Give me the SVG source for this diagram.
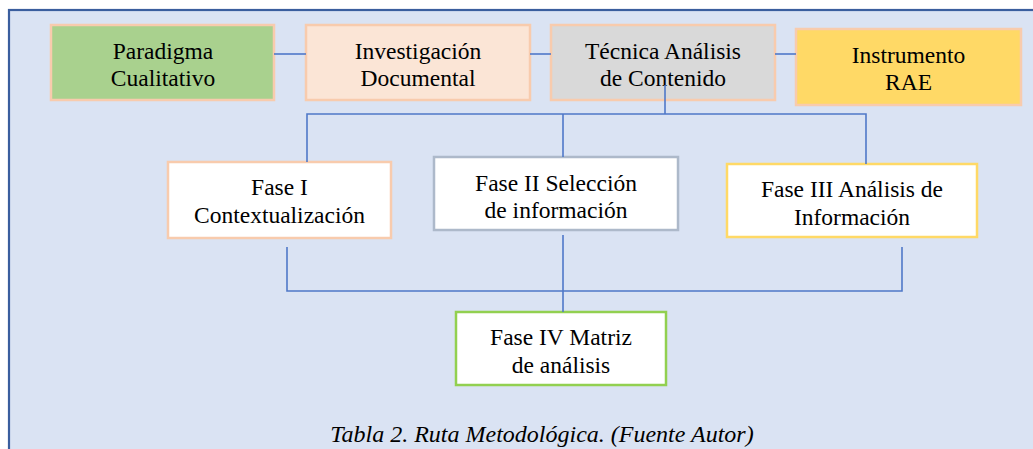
<svg xmlns="http://www.w3.org/2000/svg" width="1033" height="449" viewBox="0 0 1033 449">
<style>
.t{font-family:Liberation Serif,Tinos,serif;font-size:23.5px;fill:#000;text-anchor:middle}
.cap{font-family:Liberation Serif,Tinos,serif;font-size:24px;font-style:italic;fill:#000;text-anchor:middle}
.b{stroke-width:2.5}
.c{stroke:#4F78C8;stroke-width:1.6;fill:none}
</style>
<rect x="0" y="0" width="1033" height="449" fill="#ffffff"/>
<rect x="9" y="10" width="1030" height="445" fill="#DAE3F3" stroke="#3A5E9E" stroke-width="2.2"/>
<g id="paradigma">
<rect class="b" x="51" y="25" width="223" height="75" fill="#A9D18E" stroke="#F8CBAD"/>
<text class="t" font-family="Liberation Serif" x="163" y="59">Paradigma</text>
<text class="t" font-family="Liberation Serif" x="163" y="86">Cualitativo</text>
</g>
<g id="investigacion">
<rect class="b" x="306" y="25" width="224" height="75" fill="#FBE5D6" stroke="#F8CBAD"/>
<text class="t" font-family="Liberation Serif" x="418" y="59">Investigación</text>
<text class="t" font-family="Liberation Serif" x="418" y="86">Documental</text>
</g>
<g id="tecnica">
<rect class="b" x="551" y="25" width="224" height="75" fill="#D9D9D9" stroke="#F8CBAD"/>
<text class="t" font-family="Liberation Serif" x="663" y="58.5">Técnica Análisis</text>
<text class="t" font-family="Liberation Serif" x="663" y="86">de Contenido</text>
</g>
<g id="instrumento">
<rect class="b" x="796" y="29" width="225" height="76" fill="#FFD966" stroke="#F8CBAD"/>
<text class="t" font-family="Liberation Serif" x="908.5" y="63">Instrumento</text>
<text class="t" font-family="Liberation Serif" x="908.5" y="90">RAE</text>
</g>
<g id="fase1">
<rect class="b" x="168" y="162" width="223" height="76" fill="#FFFFFF" stroke="#F8CBAD"/>
<text class="t" font-family="Liberation Serif" x="279.5" y="195">Fase I</text>
<text class="t" font-family="Liberation Serif" x="279.5" y="223">Contextualización</text>
</g>
<g id="fase2">
<rect class="b" x="434" y="157" width="244" height="73" fill="#FFFFFF" stroke="#ADB9CA"/>
<text class="t" font-family="Liberation Serif" x="556" y="191">Fase II Selección</text>
<text class="t" font-family="Liberation Serif" x="556" y="218">de información</text>
</g>
<g id="fase3">
<rect class="b" x="727" y="164" width="250" height="73" fill="#FFFFFF" stroke="#FFD966"/>
<text class="t" font-family="Liberation Serif" x="852" y="197">Fase III Análisis de</text>
<text class="t" font-family="Liberation Serif" x="852" y="225">Información</text>
</g>
<g id="fase4">
<rect class="b" x="456" y="312" width="210" height="73" fill="#FFFFFF" stroke="#92D050"/>
<text class="t" font-family="Liberation Serif" x="561" y="345">Fase IV Matriz</text>
<text class="t" font-family="Liberation Serif" x="561" y="372.5">de análisis</text>
</g>
<g id="connectors">
<line class="c" x1="274" y1="54" x2="306" y2="54"/>
<line class="c" x1="530" y1="54" x2="551" y2="54"/>
<line class="c" x1="775" y1="54" x2="796" y2="54"/>
<line class="c" x1="665" y1="85" x2="665" y2="114"/>
<polyline class="c" points="307,162 307,114 866,114 866,164"/>
<line class="c" x1="563" y1="114" x2="563" y2="157"/>
<polyline class="c" points="287,247 287,291 902,291 902,247"/>
<line class="c" x1="563" y1="235" x2="563" y2="312"/>
</g>
<text class="cap" font-family="Liberation Serif" x="542" y="442">Tabla 2. Ruta Metodológica. (Fuente Autor)</text>
</svg>
